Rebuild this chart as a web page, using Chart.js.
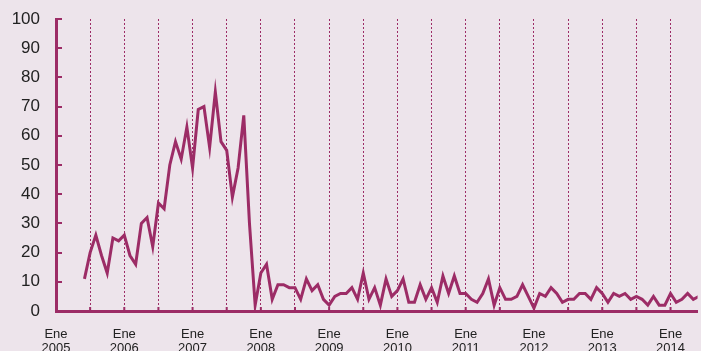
<!DOCTYPE html>
<html>
<head>
<meta charset="utf-8">
<script src="https://cdn.jsdelivr.net/npm/chart.js@4/dist/chart.umd.min.js"></script>
<style>
  html, body { margin: 0; padding: 0; background: #EDE4EB; overflow: hidden; }
  #wrap { width: 701px; height: 351px; position: relative; }
</style>
</head>
<body>
<div id="wrap"><canvas id="c" width="701" height="351"></canvas></div>
<script>
// Monthly series, starting June 2005 (month index 5 counted from Jan 2005)
const startYear = 2005;
const startMonthIndex = 5;
const values = [
  11, 20, 26, 19, 13, 25, 24,              // Jun-Dec 2005
  26, 19, 16, 30, 32, 22, 37, 35, 50, 58, 52, 63,   // 2006
  49, 69, 70, 56, 75, 58, 55, 39, 49, 67, 30, 2,    // 2007
  13, 16, 4, 9, 9, 8, 8, 4, 11, 7, 9, 4,            // 2008
  2, 5, 6, 6, 8, 4, 13, 4, 8, 2, 11, 5,             // 2009
  7, 11, 3, 3, 9, 4, 8, 3, 12, 6, 12, 6,            // 2010
  6, 4, 3, 6, 11, 2, 8, 4, 4, 5, 9, 5,              // 2011
  1, 6, 5, 8, 6, 3, 4, 4, 6, 6, 4, 8,               // 2012
  6, 3, 6, 5, 6, 4, 5, 4, 2, 5, 2, 2,               // 2013
  6, 3, 4, 6, 4, 5                                  // 2014
];
const monthWord = 'Ene';
const yTicks = [0, 10, 20, 30, 40, 50, 60, 70, 80, 90, 100];
const xTickMonths = [0, 6, 12, 18, 24, 30, 36, 42, 48, 54, 60, 66, 72, 78, 84, 90, 96, 102, 108];

const lineColor = '#9C2C66';
const points = values.map((v, i) => ({ x: startMonthIndex + i, y: v }));

const innerTicks = {
  id: 'innerTicks',
  afterDraw(chart) {
    const { ctx, scales: { x, y }, chartArea } = chart;
    ctx.save();
    ctx.strokeStyle = lineColor;
    ctx.lineWidth = 2;
    ctx.beginPath();
    yTicks.forEach(v => {
      if (v === 0) return;
      const py = Math.round(y.getPixelForValue(v));
      ctx.moveTo(chartArea.left, py);
      ctx.lineTo(chartArea.left + 6, py);
    });
    xTickMonths.forEach(m => {
      if (m === 0) return;
      const px = x.getPixelForValue(m);
      ctx.moveTo(px, chartArea.bottom);
      ctx.lineTo(px, chartArea.bottom - 4);
    });
    ctx.stroke();
    ctx.restore();
  }
};

new Chart(document.getElementById('c'), {
  type: 'line',
  data: {
    datasets: [{
      data: points,
      borderColor: lineColor,
      borderWidth: 3,
      pointRadius: 0,
      tension: 0,
      fill: false
    }]
  },
  options: {
    responsive: false,
    animation: false,
    layout: { padding: { top: 19, right: 0, bottom: 0, left: 0 } },
    plugins: { legend: { display: false }, tooltip: { enabled: false } },
    scales: {
      x: {
        type: 'linear',
        min: 0,
        max: 112.75,
        afterBuildTicks: s => { s.ticks = xTickMonths.map(v => ({ value: v })); },
        afterFit: s => { s.height = 40; },
        grid: {
          display: true,
          drawTicks: false,
          color: ctx => (ctx.tick && ctx.tick.value === 0) ? 'rgba(0,0,0,0)' : lineColor,
          lineWidth: 1
        },
        border: { display: true, color: lineColor, width: 3, dash: [2, 2] },
        ticks: {
          autoSkip: false,
          maxRotation: 0,
          padding: 16,
          color: '#222',
          font: { family: 'Liberation Sans, Arial, sans-serif', size: 13, lineHeight: 1.1 },
          callback: v => (v % 12 === 0) ? [monthWord, String(startYear + v / 12)] : ''
        }
      },
      y: {
        min: 0,
        max: 100,
        afterBuildTicks: s => { s.ticks = yTicks.map(v => ({ value: v })); },
        afterFit: s => { s.width = 56; s.paddingTop = 0; s.paddingBottom = 0; },
        grid: { display: false, drawTicks: false },
        border: { display: true, color: lineColor, width: 3 },
        ticks: {
          padding: 16,
          color: '#222',
          font: { family: 'Liberation Sans, Arial, sans-serif', size: 17 }
        }
      }
    }
  },
  plugins: [innerTicks]
});
</script>
</body>
</html>
